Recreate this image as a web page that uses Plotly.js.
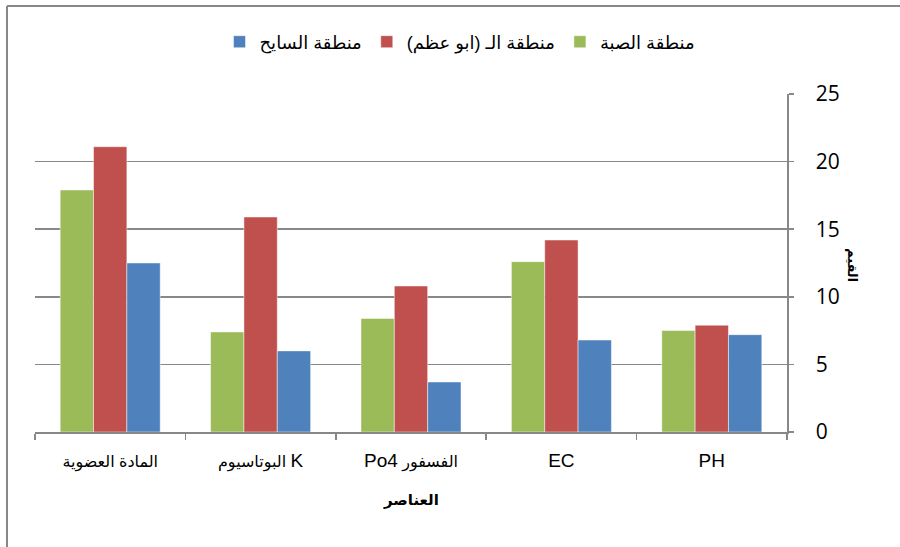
<!DOCTYPE html>
<html>
<head>
<meta charset="utf-8">
<script src="https://cdn.plot.ly/plotly-3.0.1.min.js"></script>
<style>
html,body{margin:0;padding:0;background:#fff;}
#chart{width:900px;height:547px;}
</style>
</head>
<body>
<div id="chart"></div>
<script>
// Categories in display order (left to right)
const categories = ["المادة العضوية", "البوتاسيوم K", "Po4 الفسفور", "EC", "PH"];
// Tick labels (Latin parts drawn larger, as in the reference)
const tickLabels = [
  "المادة العضوية",
  "البوتاسيوم <span style='font-size:19px'>K</span>",
  "<span style='font-size:19px'>Po4</span> الفسفور",
  "<span style='font-size:19px'>EC</span>",
  "<span style='font-size:19px'>PH</span>"
];
// Series
const sabaName = "منطقة الصبة";
const sabaValues = [17.9, 7.4, 8.4, 12.6, 7.5];
const abuAzamName = "منطقة الـ (ابو عظم)";
const abuAzamValues = [21.1, 15.9, 10.8, 14.2, 7.9];
const sayehName = "منطقة السايح";
const sayehValues = [12.5, 6.0, 3.7, 6.8, 7.2];
const yTicks = [0, 5, 10, 15, 20, 25];
const xTitle = "العناصر";
const yTitle = "القيم";

const arabicFont = "Arial, 'Liberation Sans', 'DejaVu Sans', sans-serif";
const latinFont = "'Open Sans', 'Noto Sans', sans-serif";

function barTrace(name, values, color) {
  return {
    type: "bar",
    name: name,
    x: categories,
    y: values,
    marker: {color: color, line: {color: "rgba(255,255,255,0.6)", width: 0.8}},
    hoverinfo: "skip"
  };
}

const data = [
  barTrace(sabaName, sabaValues, "#9BBB59"),
  barTrace(abuAzamName, abuAzamValues, "#C0504D"),
  barTrace(sayehName, sayehValues, "#4F81BD")
];

const gray = "#888888";
const L = 35, R = 787, T = 94, B = 432;
const pw = R - L, ph = B - T;
function px2x(p){ return (p - L) / pw; }
function px2y(p){ return (B - p) / ph; }

const layout = {
  width: 900,
  height: 547,
  margin: {l: L, r: 900 - R, t: T, b: 547 - B},
  paper_bgcolor: "#fff",
  plot_bgcolor: "#fff",
  barmode: "group",
  bargap: 0.335,
  bargroupgap: 0,
  showlegend: true,
  legend: {
    orientation: "h",
    traceorder: "reversed",
    x: px2x(460), xanchor: "center",
    y: px2y(42), yanchor: "middle",
    font: {family: arabicFont, size: 18, color: "#000"},
    itemwidth: 30,
    tracegroupgap: 0
  },
  xaxis: {
    type: "category",
    categoryorder: "array",
    categoryarray: categories,
    tickvals: categories,
    ticktext: tickLabels,
    showgrid: false,
    showline: true,
    linecolor: gray,
    linewidth: 1.5,
    ticks: "outside",
    tickson: "boundaries",
    ticklen: 6,
    tickcolor: gray,
    tickwidth: 1.5,
    ticklabelstandoff: 14,
    tickfont: {family: arabicFont, size: 16, color: "#000"},
    zeroline: false,
    fixedrange: true
  },
  yaxis: {
    side: "right",
    range: [0, 25],
    tickvals: yTicks,
    ticktext: yTicks.map(String),
    showgrid: true,
    gridcolor: gray,
    gridwidth: 1.5,
    showline: true,
    linecolor: gray,
    linewidth: 1.5,
    ticks: "outside",
    ticklen: 5,
    tickcolor: gray,
    tickwidth: 1.5,
    ticklabelstandoff: 18,
    tickfont: {family: latinFont, size: 21, color: "#000"},
    zeroline: false,
    fixedrange: true
  },
  annotations: [
    {
      text: "<b>" + xTitle + "</b>",
      xref: "paper", yref: "paper",
      x: px2x(411), y: px2y(500),
      xanchor: "center", yanchor: "middle",
      showarrow: false,
      font: {family: arabicFont, size: 15, color: "#000"}
    },
    {
      text: "<b>" + yTitle + "</b>",
      xref: "paper", yref: "paper",
      x: px2x(853), y: px2y(265),
      xanchor: "center", yanchor: "middle",
      textangle: 90,
      showarrow: false,
      font: {family: arabicFont, size: 13, color: "#000"}
    }
  ],
  shapes: [
    {type: "line", xref: "paper", yref: "paper",
     x0: px2x(7), x1: px2x(7), y0: px2y(560), y1: px2y(6),
     line: {color: gray, width: 2}},
    {type: "line", xref: "paper", yref: "paper",
     x0: px2x(7), x1: px2x(910), y0: px2y(6), y1: px2y(6),
     line: {color: gray, width: 2}}
  ]
};

Plotly.newPlot("chart", data, layout, {displayModeBar: false, staticPlot: true});
</script>
</body>
</html>
